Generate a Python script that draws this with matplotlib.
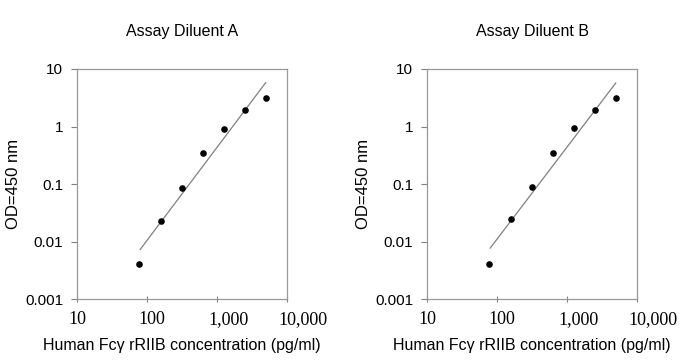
import matplotlib.pyplot as plt
import matplotlib.transforms as mtransforms
from matplotlib.ticker import FuncFormatter

plt.rcParams['font.family'] = ['Liberation Sans', 'DejaVu Sans']

# standard concentrations (pg/ml)
conc = [78.125, 156.25, 312.5, 625, 1250, 2500, 5000]

# OD readings
od_a = [0.0040, 0.023, 0.084, 0.34, 0.91, 1.92, 3.18]
od_b = [0.0040, 0.025, 0.089, 0.35, 0.93, 1.92, 3.18]

# fitted trend line endpoints
fit_x = [80, 4970]
fit_a = [0.0073, 5.8]
fit_b = [0.0077, 5.7]

titles = ["Assay Diluent A", "Assay Diluent B"]
xlabel = "Human Fc\u03b3 rRIIB concentration (pg/ml)"
xticks = [10, 100, 1000, 10000]
xticklabels = ["10", "100", "1,000", "10,000"]
yticks = [0.001, 0.01, 0.1, 1, 10]

fig = plt.figure(figsize=(7, 3.63), dpi=100)
lefts = [0.11, 0.61]
series = [(od_a, fit_a), (od_b, fit_b)]

# excel-style x labels: left-aligned a bit before the tick, 20px under the axis
shift = mtransforms.ScaledTranslation(-9 / 100, -20 / 100, fig.dpi_scale_trans)

for left, title, (od, fit) in zip(lefts, titles, series):
    ax = fig.add_axes([left, 0.176, 0.30, 0.634])
    ax.set_xscale('log')
    ax.set_yscale('log')
    ax.plot(fit_x, fit, color='#808080', lw=0.9)
    ax.scatter(conc, od, s=14, color='black', zorder=3)
    ax.set_xlim(10, 10000)
    ax.set_ylim(0.001, 10)
    ax.set_xticks(xticks)
    ax.set_yticks(yticks)
    ax.minorticks_off()
    ax.yaxis.set_major_formatter(FuncFormatter(lambda v, p: f"{v:g}"))
    ax.tick_params(axis='x', direction='inout', length=4, color='#808080', labelbottom=False)
    ax.tick_params(axis='y', direction='out', length=4, color='#808080', labelsize=11, pad=6)
    tr = ax.get_xaxis_transform() + shift
    for xv, txt in zip(xticks, xticklabels):
        ax.text(xv, 0, txt, transform=tr, ha='left', va='center',
                family='Liberation Serif', fontsize=13, clip_on=False)
    for sp in ax.spines.values():
        sp.set_color('#999999')
        sp.set_linewidth(0.9)
    ax.set_title(title, fontsize=11.5, pad=24)
    ax.set_xlabel(xlabel, fontsize=11.5, labelpad=26)
    ax.set_ylabel("OD=450 nm", fontsize=12, labelpad=3)

fig.savefig("out.png", dpi=100)
